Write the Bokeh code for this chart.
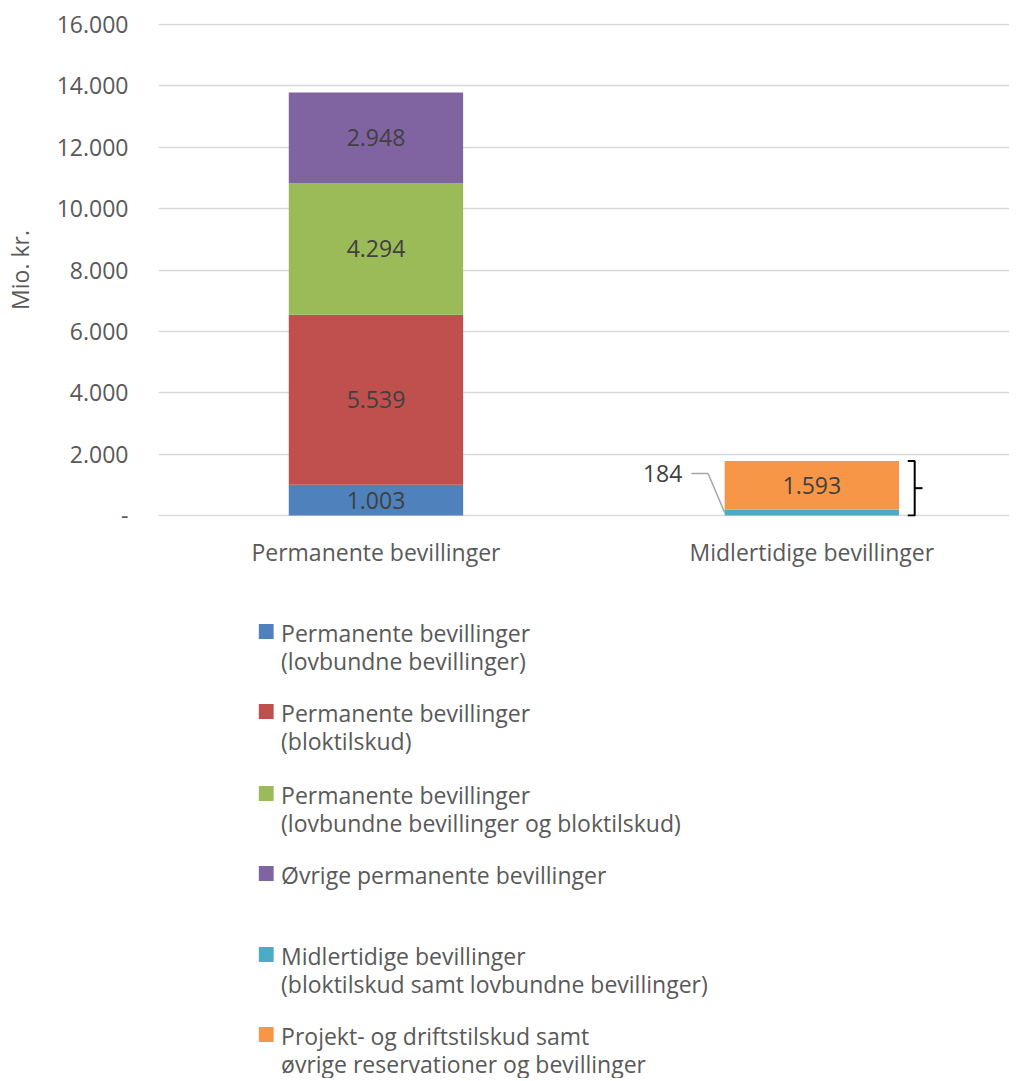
import numpy as np
from bokeh.plotting import figure
from bokeh.models import Range1d, FixedTicker, ColumnDataSource
from bokeh.layouts import column
from bokeh.embed import file_html
from bokeh.resources import INLINE
from bokeh.core.properties import value

# ---------------- data ----------------
categories = ["Permanente bevillinger", "Midlertidige bevillinger"]
series_names = [
    "Permanente bevillinger\n(lovbundne bevillinger)",
    "Permanente bevillinger\n(bloktilskud)",
    "Permanente bevillinger\n(lovbundne bevillinger og bloktilskud)",
    "Øvrige permanente bevillinger",
    "Midlertidige bevillinger\n(bloktilskud samt lovbundne bevillinger)",
    "Projekt- og driftstilskud samt\nøvrige reservationer og bevillinger",
]
series_colors = ["#4f81bd", "#c0504d", "#9bbb59", "#8064a2", "#4bacc6", "#f79646"]
perm_values = [1003, 5539, 4294, 2948]
midl_values = [184, 1593]
y_ticks = [0, 2000, 4000, 6000, 8000, 10000, 12000, 14000, 16000]
y_tick_labels = ["-", "2.000", "4.000", "6.000", "8.000", "10.000", "12.000", "14.000", "16.000"]
y_axis_title = "Mio. kr."

FONT = "Open Sans"
FS = "23px"
AXIS_COLOR = "#595959"
LABEL_COLOR = "#404040"


def fmt(v):
    return f"{v:,}".replace(",", ".")


W = 1009
# ---------------- main chart ----------------
H1 = 570
TOP = 23
FRAME_H = 496
p = figure(width=W, height=H1, output_backend="svg", toolbar_location=None,
           x_range=Range1d(-0.4989, 1.4535), y_range=Range1d(-35, 16035),
           min_border_left=148, min_border_right=0, min_border_top=TOP,
           min_border_bottom=H1 - TOP - FRAME_H)
p.outline_line_color = None
p.background_fill_color = "white"
p.border_fill_color = "white"

bar_w = 0.4
xs, bottoms, tops, colors, labels, mids = [], [], [], [], [], []
cum = np.cumsum([0] + perm_values)
for i, v in enumerate(perm_values):
    xs.append(0); bottoms.append(cum[i]); tops.append(cum[i + 1]); colors.append(series_colors[i])
    labels.append(fmt(v)); mids.append((cum[i] + cum[i + 1]) / 2)
cum2 = np.cumsum([0] + midl_values)
for i, v in enumerate(midl_values):
    xs.append(1); bottoms.append(cum2[i]); tops.append(cum2[i + 1]); colors.append(series_colors[4 + i])
    labels.append(fmt(v)); mids.append((cum2[i] + cum2[i + 1]) / 2)

src = ColumnDataSource(dict(x=xs, bottom=bottoms, top=tops, color=colors, label=labels, mid=mids))
p.vbar(x="x", bottom="bottom", top="top", width=bar_w, fill_color="color", line_color=None, source=src)

small = fmt(midl_values[0])
inner = ColumnDataSource(dict(x=[x for x, l in zip(xs, labels) if l != small],
                              y=[m for m, l in zip(mids, labels) if l != small],
                              t=[l for l in labels if l != small]))
p.text(x="x", y="y", text="t", source=inner, text_align="center", text_baseline="middle",
       text_font=value(FONT), text_font_size=FS, text_color=LABEL_COLOR)

# outside label for 184 with leader line
lab_y = 1366
p.text(x=[0.703], y=[lab_y], text=[small], text_align="right", text_baseline="middle",
       text_font=value(FONT), text_font_size=FS, text_color=LABEL_COLOR)
p.line(x=[0.7234, 0.762, 1 - bar_w / 2], y=[lab_y, lab_y, midl_values[0] / 2],
       line_color="#a6a6a6", line_width=1.5)

# curly bracket on the right of the temporary bar
total2 = sum(midl_values)
bx = 1 + bar_w / 2 + 0.036
p.multi_line(xs=[[bx - 0.016, bx, bx, bx - 0.016], [bx, bx + 0.018]],
             ys=[[total2, total2, 0, 0], [total2 / 2, total2 / 2]],
             line_color="black", line_width=2)

# axes
p.xaxis.ticker = FixedTicker(ticks=[0, 1])
p.xaxis.major_label_overrides = {0: categories[0], 1: categories[1]}
p.yaxis.ticker = FixedTicker(ticks=y_ticks)
p.yaxis.major_label_overrides = {t: l for t, l in zip(y_ticks, y_tick_labels)}
p.yaxis.axis_label = y_axis_title
for ax in (p.xaxis, p.yaxis):
    ax.axis_line_color = None
    ax.major_tick_line_color = None
    ax.minor_tick_line_color = None
    ax.major_tick_out = 0
    ax.major_label_text_font = FONT
    ax.major_label_text_font_size = FS
    ax.major_label_text_color = AXIS_COLOR
    ax.axis_label_text_font = FONT
    ax.axis_label_text_font_size = FS
    ax.axis_label_text_color = AXIS_COLOR
    ax.axis_label_text_font_style = "normal"
p.xaxis.major_label_standoff = 19
p.yaxis.major_label_standoff = 30
p.yaxis.axis_label_standoff = 18
p.xgrid.visible = False
p.ygrid.grid_line_color = "#d9d9d9"
p.ygrid.grid_line_width = 1.5

# ---------------- legend panel (coordinates = screen pixels) ----------------
top2 = H1
H2 = 1078 - H1
lg = figure(width=W, height=H2, output_backend="svg", toolbar_location=None,
            x_range=Range1d(156, 8 + W), y_range=Range1d(top2 + H2, top2),
            min_border_left=148, min_border_right=0, min_border_top=0, min_border_bottom=0)
lg.outline_line_color = None
lg.axis.visible = False
lg.grid.visible = False

first_line_y = [632, 712, 794, 874, 955, 1035]
sq_x, sq_y, sq_c = [], [], []
tx, ty, tt = [], [], []
for i, (name, col) in enumerate(zip(series_names, series_colors)):
    y0 = first_line_y[i]
    sq_x.append(265); sq_y.append(y0 - 1); sq_c.append(col)
    for j, line in enumerate(name.split("\n")):
        tx.append(280); ty.append(y0 + j * 28); tt.append(line)

lg.rect(x=sq_x, y=sq_y, width=15, height=15, fill_color=sq_c, line_color=None)
lg.text(x=tx, y=ty, text=tt, text_align="left", text_baseline="middle",
        text_font=value(FONT), text_font_size=FS, text_color=AXIS_COLOR)

layout = column(p, lg, spacing=0)
open("out.html", "w").write(file_html(layout, INLINE))
